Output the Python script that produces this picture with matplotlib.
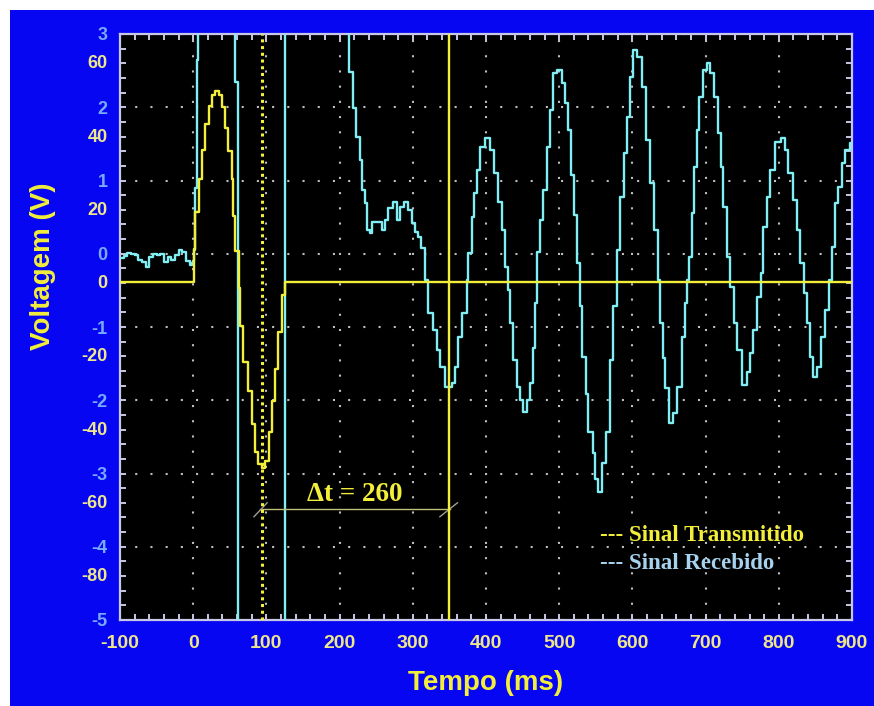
import matplotlib
matplotlib.use("Agg")
import matplotlib.pyplot as plt
from matplotlib.patches import Rectangle
from matplotlib.ticker import MultipleLocator

plt.rcParams["axes.unicode_minus"] = False

# received signal (left blue scale, V)
t_rec = [-100, -95, -90, -85, -80, -75, -70, -65, -60, -55, -50, -45, -40, -35,
         -30, -25, -20, -15, -10, -5, -2, 0, 1, 3, 5, 7, 30, 56, 57, 61, 95, 124,
         126, 170, 212, 213, 218, 222, 228, 231, 235, 238, 242, 244, 255, 258, 262,
         266, 273, 278, 283, 288, 294, 299, 303, 307, 311, 316, 321, 328, 333, 337,
         344, 353, 358, 362, 367, 374, 376, 381, 383, 388, 392, 399, 406, 411, 417,
         422, 426, 430, 433, 437, 442, 447, 451, 456, 460, 464, 467, 470, 474, 478,
         483, 488, 492, 497, 504, 508, 512, 516, 520, 524, 528, 531, 537, 540, 546,
         549, 553, 558, 564, 570, 574, 579, 583, 588, 593, 597, 601, 606, 613, 619,
         624, 629, 635, 638, 642, 645, 650, 656, 661, 668, 672, 675, 677, 682, 684,
         688, 691, 697, 702, 706, 712, 717, 721, 724, 729, 734, 739, 743, 750, 756,
         761, 765, 770, 775, 779, 784, 788, 795, 803, 809, 813, 820, 825, 829, 834,
         839, 843, 847, 852, 857, 863, 868, 873, 877, 881, 886, 891, 897, 900]
v_rec = [-0.06, -0.03, 0.01, 0.0, -0.02, -0.08, -0.11, -0.18, -0.05, 0.0, -0.02,
         0.0, -0.11, -0.04, -0.08, -0.02, 0.05, 0.02, -0.1, -0.15, -0.12, -0.1,
         0.05, 0.9, 2.65, 5.0, 6.0, 5.0, 2.35, -7.0, -8.0, -7.0, 5.0, 6.0, 3.5,
         2.48, 1.99, 1.59, 1.28, 0.87, 0.69, 0.33, 0.29, 0.44, 0.44, 0.33, 0.46,
         0.63, 0.71, 0.46, 0.64, 0.71, 0.6, 0.42, 0.3, 0.23, 0.08, -0.36, -0.81,
         -1.04, -1.31, -1.54, -1.82, -1.76, -1.54, -1.13, -0.81, -0.36, 0.01, 0.5,
         0.83, 1.14, 1.46, 1.58, 1.42, 1.1, 0.71, 0.33, -0.18, -0.49, -0.94, -1.45,
         -1.82, -1.99, -2.16, -1.99, -1.76, -1.28, -0.67, 0.03, 0.46, 0.87, 1.46,
         1.96, 2.47, 2.51, 2.33, 2.06, 1.69, 1.08, 0.53, -0.12, -0.72, -1.41,
         -1.92, -2.44, -2.72, -3.08, -3.25, -2.85, -2.44, -1.45, -0.72, 0.05, 0.78,
         1.38, 1.87, 2.41, 2.78, 2.69, 2.28, 1.55, 0.97, 0.33, -0.36, -0.94, -1.42,
         -1.83, -2.31, -2.17, -1.82, -1.13, -0.67, -0.36, -0.04, 0.56, 1.19, 1.69,
         2.14, 2.51, 2.6, 2.47, 2.14, 1.65, 1.19, 0.64, -0.04, -0.45, -0.94, -1.31,
         -1.79, -1.62, -1.35, -1.04, -0.59, -0.26, 0.37, 0.78, 1.14, 1.53, 1.58,
         1.42, 1.1, 0.74, 0.33, -0.12, -0.53, -0.94, -1.41, -1.68, -1.54, -1.13,
         -0.77, -0.36, 0.09, 0.69, 0.91, 1.24, 1.42, 1.51, 1.51]

# transmitted signal (yellow scale)
t_tx = [-100, 0, 0.5, 2.7, 7.3, 11.8, 16.4, 21, 25.5, 30, 34.6, 39, 43.7, 48,
        52.8, 55, 57, 61.9, 64, 68.7, 75, 80, 84.4, 89, 94, 98, 103, 107.5, 112,
        116.5, 121, 125.4, 900]
v_tx = [0, 0, 8.9, 19, 28, 36, 43, 48, 51, 52, 51, 47.6, 42, 35.7, 28, 18, 8.3,
        -1.7, -12, -22, -30, -39, -46.5, -49.8, -51, -49, -41, -32.6, -23.8,
        -13.8, -3.6, 0, 0]

x_ticks = [-100, 0, 100, 200, 300, 400, 500, 600, 700, 800, 900]
rec_ticks = [3, 2, 1, 0, -1, -2, -3, -4, -5]
tx_ticks = [60, 40, 20, 0, -20, -40, -60, -80]

t_marker = 94      # transmitted minimum
t_arrival = 350    # received minimum
dt_label = "Δt = 260"

BLUE_BG = "#0606F2"
CYAN = "#80EEF2"
YELLOW = "#F2EE3A"
TICK_YEL = "#EEE68C"
TICK_BLUE = "#78AAFF"
SPINE = "#C8C8E6"

fig = plt.figure(figsize=(8.74, 7.06), dpi=100, facecolor="white")
fig.patches.append(Rectangle((10 / 874, 0), 1, 1 - 10 / 706, transform=fig.transFigure,
                             facecolor=BLUE_BG, edgecolor="none", zorder=-10))

ax = fig.add_axes([120 / 874, 1 - 620 / 706, 732 / 874, 586 / 706])
ax.set_facecolor("black")
ax.set_xlim(-100, 900)
ax.set_ylim(-5, 3)

# yellow scale: 0 sits a bit under the blue 0
offset = 0.38
ax2 = ax.twinx()
ax2.set_ylim((-5 + offset) * 20, (3 + offset) * 20)

# grid
ax.set_axisbelow(True)
ax.grid(True, which="major", color="#BEBEBE", linestyle=(0, (1, 6.3)), linewidth=1.5)

ax.step(t_rec, v_rec, where="post", color=CYAN, linewidth=1.7, zorder=3)
ax2.step(t_tx, v_tx, where="post", color=YELLOW, linewidth=1.7, zorder=3)

ax2.axvline(t_arrival, color=YELLOW, linewidth=1.7, zorder=4)
ax2.axvline(t_marker, color=YELLOW, linewidth=2.2, linestyle=(0, (1, 1.2)), zorder=4)

# delta t annotation
yb = -3.49
ax.plot([91, 351], [yb, yb], color="#C0C07A", linewidth=1.0, zorder=5)
ax.plot([83, 101], [yb - 0.1, yb + 0.09], color="#A0A090", linewidth=1.0, zorder=5)
ax.plot([337, 361], [yb - 0.1, yb + 0.09], color="#A0A090", linewidth=1.0, zorder=5)
ax.text(221, -3.29, dt_label, color=YELLOW, fontsize=19.5, fontweight="bold",
        family="Liberation Serif", ha="center", va="center", zorder=6)

# legend made of text
ax.text(0.656, 0.145, "--- Sinal Transmitido", transform=ax.transAxes, color=YELLOW,
        fontsize=16.5, fontweight="bold", family="Liberation Serif", va="center")
ax.text(0.656, 0.097, "--- Sinal Recebido", transform=ax.transAxes, color="#A6D2EE",
        fontsize=16.5, fontweight="bold", family="Liberation Serif", va="center")

# axes styling
for sp in ax.spines.values():
    sp.set_color(SPINE)
    sp.set_linewidth(1.6)
for sp in ax2.spines.values():
    sp.set_visible(False)

ax.set_xticks(x_ticks)
ax.xaxis.set_minor_locator(MultipleLocator(20))
ax.set_yticks(rec_ticks)
ax.yaxis.set_minor_locator(MultipleLocator(0.2))
ax.tick_params(which="both", direction="in", top=True, right=True, length=4.5,
               width=1.4, color=SPINE)
ax.tick_params(axis="x", pad=11, labelsize=14, labelcolor=TICK_YEL)
ax.tick_params(axis="y", pad=9, labelsize=13, labelcolor=TICK_BLUE)

ax2.set_yticks(tx_ticks)
ax2.yaxis.set_ticks_position("left")
ax2.tick_params(axis="y", which="both", length=0, pad=9, labelsize=13,
                labelcolor=TICK_YEL, labelleft=True, labelright=False)

for lab in ax.get_xticklabels() + ax.get_yticklabels() + ax2.get_yticklabels():
    lab.set_fontweight("bold")
    lab.set_family("Liberation Sans")

ax.set_xlabel("Tempo (ms)", color=YELLOW, fontsize=20, fontweight="bold",
              family="Liberation Sans")
ax.set_ylabel("Voltagem (V)", color=YELLOW, fontsize=20, fontweight="bold",
              family="Liberation Sans")
ax.xaxis.set_label_coords(0.5, -0.085)
ax.yaxis.set_label_coords(-0.088, 0.604)

fig.savefig("out.png", dpi=100, facecolor=fig.get_facecolor())
